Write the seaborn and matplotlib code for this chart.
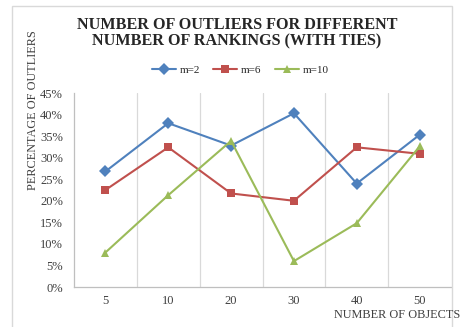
import numpy as np
import pandas as pd
import matplotlib
matplotlib.use('Agg')
import matplotlib.pyplot as plt
import seaborn as sns
from matplotlib.patches import Rectangle
from matplotlib.ticker import FuncFormatter

sns.set_theme(style='white')
plt.rcParams['font.family'] = ['Liberation Serif', 'DejaVu Serif']

objects = ['5', '10', '20', '30', '40', '50']
m2 = [26.8, 38.0, 32.8, 40.3, 24.0, 35.3]
m6 = [22.5, 32.4, 21.7, 20.0, 32.4, 30.9]
m10 = [8.0, 21.3, 33.9, 6.0, 14.8, 32.6]
series = ['m=2', 'm=6', 'm=10']
colors = ['#4F81BD', '#C0504D', '#9BBB59']
markers = ['D', 's', '^']

df = pd.DataFrame({
    'objects': objects * 3,
    'pct': m2 + m6 + m10,
    'm': [s for s in series for _ in objects],
})

fig = plt.figure(figsize=(4.61, 3.27), dpi=100)
ax = fig.add_axes([74/461, 1 - 287/327, (451 - 74)/461, (287 - 93)/327])

sns.lineplot(data=df, x='objects', y='pct', hue='m', style='m',
             markers=markers, dashes=False, palette=colors, sort=False,
             linewidth=1.5, markersize=6, markeredgewidth=0, ax=ax)

ax.set_xlim(-0.5, 5.5)
ax.set_ylim(0, 45)
ax.set_yticks(np.arange(0, 46, 5))
ax.yaxis.set_major_formatter(FuncFormatter(lambda v, p: '{:.0f}%'.format(v)))
ax.set_xticks(range(6))
ax.set_xticklabels(objects)
for x in np.arange(0.5, 5.5, 1):
    ax.axvline(x, color='#D9D9D9', lw=0.9, zorder=0)
ax.tick_params(axis='both', length=0, labelsize=9, colors='#404040')
ax.tick_params(axis='y', pad=8)
ax.tick_params(axis='x', pad=6)
for s in ['top', 'right']:
    ax.spines[s].set_visible(False)
for s in ['left', 'bottom']:
    ax.spines[s].set_color('#BFBFBF')
    ax.spines[s].set_linewidth(0.9)
ax.set_xlabel('')
ax.set_ylabel('')

fig.text(33/461, 1 - 110/327, 'PERCENTAGE OF OUTLIERS', rotation=90,
         ha='center', va='center', fontsize=8.8, color='#404040')
fig.text(460/461, 1 - 315/327, 'NUMBER OF OBJECTS', ha='right', va='center',
         fontsize=8.8, color='#404040')
fig.text(237/461, 1 - 33/327,
         'NUMBER OF OUTLIERS FOR DIFFERENT\nNUMBER OF RANKINGS (WITH TIES)',
         ha='center', va='center', fontsize=11.6, fontweight='bold',
         color='#262626', linespacing=1.0)

ax.legend(loc='upper center', bbox_to_anchor=(240/461, 1 - 60/327),
          bbox_transform=fig.transFigure, ncol=3, frameon=False,
          fontsize=8, handlelength=2.2, columnspacing=1.2,
          handletextpad=0.3, borderpad=0)

fig.patches.append(Rectangle((12/461, -0.1), (452 - 12)/461, 1.1 - 6/327,
                             transform=fig.transFigure, fill=False,
                             edgecolor='#D9D9D9', lw=1))

fig.savefig('out.png', dpi=100)
plt.close(fig)
